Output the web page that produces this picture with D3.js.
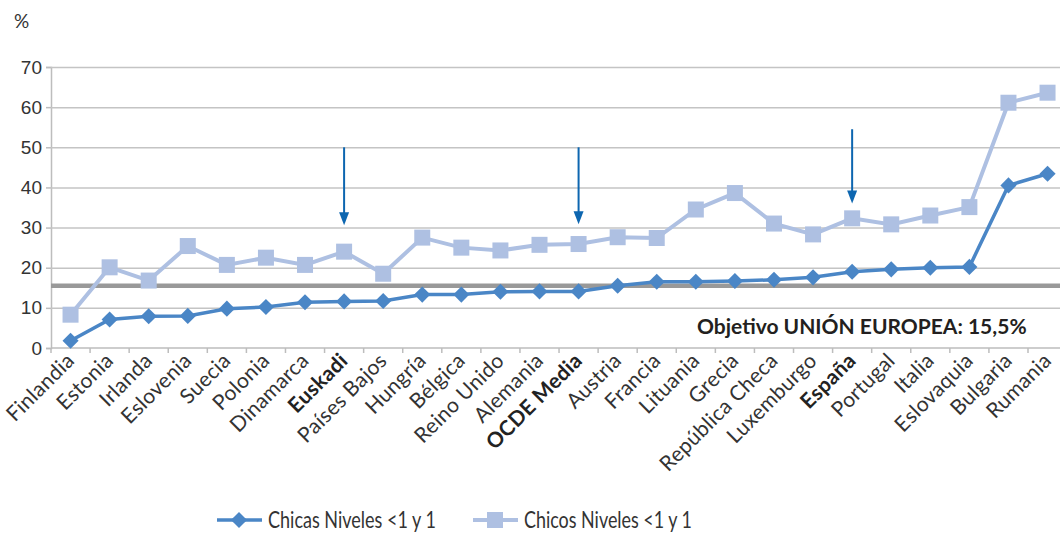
<!DOCTYPE html>
<html lang="es">
<head>
<meta charset="utf-8">
<title>Niveles &lt;1 y 1</title>
<script src="https://cdnjs.cloudflare.com/ajax/libs/d3/7.8.5/d3.min.js"></script>
<style>
  body { margin: 0; background: #fff; }
  svg { display: block; font-family: Lato, "Open Sans", sans-serif; }
  .ylab { font-size: 19px; fill: #333; }
  .xlab { font-size: 21px; fill: #333; letter-spacing: 0.3px; }
  .bold { font-weight: bold; fill: #222; }
  .legendtext { font-size: 23px; fill: #333; }
</style>
</head>
<body>
<script>
// Data
const countries = ["Finlandia", "Estonia", "Irlanda", "Eslovenia", "Suecia", "Polonia", "Dinamarca",
  "Euskadi", "Países Bajos", "Hungría", "Bélgica", "Reino Unido", "Alemania", "OCDE Media",
  "Austria", "Francia", "Lituania", "Grecia", "República Checa", "Luxemburgo", "España",
  "Portugal", "Italia", "Eslovaquia", "Bulgaria", "Rumania"];
const chicas = [1.8, 7.1, 7.9, 8.0, 9.8, 10.2, 11.4, 11.6, 11.7, 13.3, 13.3, 14.0, 14.1, 14.1,
  15.5, 16.5, 16.5, 16.7, 17.0, 17.6, 19.0, 19.6, 20.0, 20.2, 40.5, 43.4];
const chicos = [8.3, 20.1, 16.8, 25.4, 20.7, 22.5, 20.7, 24.0, 18.5, 27.5, 25.0, 24.3, 25.7, 25.9,
  27.6, 27.4, 34.5, 38.6, 31.0, 28.3, 32.3, 30.8, 33.0, 35.1, 61.1, 63.6];
const boldLabels = ["Euskadi", "OCDE Media", "España"];
const arrowed = ["Euskadi", "OCDE Media", "España"];
const target = 15.5;
const yTicks = [0, 10, 20, 30, 40, 50, 60, 70];

const w = 1060, h = 534;
const mLeft = 51, mTop = 67, mBottom = 348;
const bandW = 39.08;

const svg = d3.select("body").append("svg").attr("width", w).attr("height", h);

const x = d3.scaleBand().domain(countries).range([mLeft, mLeft + bandW * countries.length]);
const y = d3.scaleLinear().domain([0, 70]).range([mBottom, mTop]);
const cx = d => x(d) + x.bandwidth() / 2;

// gridlines + y axis
const yAxis = d3.axisLeft(y).tickValues(yTicks).tickSize(5).tickPadding(4);
const gy = svg.append("g").attr("transform", `translate(${mLeft},0)`).call(yAxis);
gy.select(".domain").attr("stroke", "#bdbdbd").attr("stroke-width", 1.5);
gy.selectAll(".tick line").attr("stroke", "#bdbdbd").attr("stroke-width", 1.5);
gy.selectAll(".tick text").attr("class", "ylab").attr("fill", "#333");
gy.selectAll(".tick").filter(d => d > 0).append("line")
  .attr("x1", 0).attr("x2", w - mLeft)
  .attr("stroke", "#c4c4c4").attr("stroke-width", 1.5);

svg.append("text").attr("class", "ylab").attr("x", 14).attr("y", 28).text("%");

// x axis
svg.append("line").attr("x1", mLeft).attr("x2", w).attr("y1", mBottom).attr("y2", mBottom)
  .attr("stroke", "#bdbdbd").attr("stroke-width", 1.5);
svg.append("g").selectAll("line").data(countries).join("line")
  .attr("x1", d => x(d)).attr("x2", d => x(d))
  .attr("y1", mBottom).attr("y2", mBottom + 5)
  .attr("stroke", "#bdbdbd").attr("stroke-width", 1.5);
svg.append("g").selectAll("text").data(countries).join("text")
  .attr("class", d => boldLabels.includes(d) ? "xlab bold" : "xlab")
  .attr("text-anchor", "end")
  .attr("transform", d => `translate(${cx(d) + 5},${mBottom + 14}) rotate(-45)`)
  .text(d => d);

// target line
svg.append("line").attr("x1", mLeft).attr("x2", w)
  .attr("y1", y(target)).attr("y2", y(target))
  .attr("stroke", "#999").attr("stroke-width", 4.5);
svg.append("text").attr("x", 697).attr("y", 334)
  .attr("font-size", 21).attr("font-weight", "bold").attr("fill", "#231f20")
  .text("Objetivo UNIÓN EUROPEA: 15,5%");

// series
const line = d3.line().x((d, i) => cx(countries[i])).y(d => y(d));
svg.append("path").datum(chicos).attr("d", line)
  .attr("fill", "none").attr("stroke", "#aec0e2").attr("stroke-width", 4);
svg.append("g").selectAll("rect").data(chicos).join("rect")
  .attr("x", (d, i) => cx(countries[i]) - 8).attr("y", d => y(d) - 8)
  .attr("width", 16).attr("height", 16).attr("fill", "#aec0e2");

svg.append("path").datum(chicas).attr("d", line)
  .attr("fill", "none").attr("stroke", "#4a86c6").attr("stroke-width", 3.5);
const diamond = d3.symbol().type(d3.symbolSquare).size(130);
svg.append("g").selectAll("path").data(chicas).join("path")
  .attr("d", diamond)
  .attr("transform", (d, i) => `translate(${cx(countries[i])},${y(d)}) rotate(45)`)
  .attr("fill", "#4a86c6");

// arrows
const arrowTop = { "Euskadi": 50, "OCDE Media": 50, "España": 54.5 };
const arrowTip = { "Euskadi": 30.6, "OCDE Media": 30.8, "España": 36.0 };
arrowed.forEach(c => {
  const ax = cx(c);
  const y0 = y(arrowTop[c]), y1 = y(arrowTip[c]);
  svg.append("line").attr("x1", ax).attr("x2", ax).attr("y1", y0).attr("y2", y1 - 10)
    .attr("stroke", "#0d66b0").attr("stroke-width", 2);
  svg.append("path")
    .attr("d", `M${ax - 5},${y1 - 13}L${ax + 5},${y1 - 13}L${ax},${y1}Z`)
    .attr("fill", "#0d66b0");
});

// legend
const legend = svg.append("g");
const lg = [
  { name: "Chicas Niveles <1 y 1", color: "#4a86c6", x: 217, mark: "diamond" },
  { name: "Chicos Niveles <1 y 1", color: "#aec0e2", x: 473, mark: "square" }
];
lg.forEach(s => {
  legend.append("line").attr("x1", s.x).attr("x2", s.x + 45).attr("y1", 520).attr("y2", 520)
    .attr("stroke", s.color).attr("stroke-width", s.mark === "diamond" ? 3.5 : 4);
  if (s.mark === "diamond") {
    legend.append("path").attr("d", diamond)
      .attr("transform", `translate(${s.x + 22},520) rotate(45)`).attr("fill", s.color);
  } else {
    legend.append("rect").attr("x", s.x + 14).attr("y", 512).attr("width", 16).attr("height", 16)
      .attr("fill", s.color);
  }
  legend.append("text").attr("class", "legendtext").attr("x", s.x + 51).attr("y", 528)
    .attr("textLength", 168).attr("lengthAdjust", "spacingAndGlyphs").text(s.name);
});
</script>
</body>
</html>
